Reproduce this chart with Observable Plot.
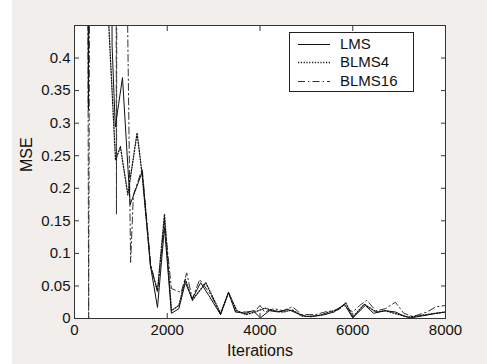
<!DOCTYPE html>
<html><head><meta charset="utf-8">
<script src="https://cdn.jsdelivr.net/npm/d3@7"></script>
<script src="https://cdn.jsdelivr.net/npm/@observablehq/plot@0.6"></script>
<style>
html,body{margin:0;padding:0;background:#fff;}
#wrap{position:relative;width:487px;height:364px;background:linear-gradient(to right,#fff 12px,#f1eeeb 12px);font-family:"Liberation Sans",Arial,sans-serif;overflow:hidden;}
#wrap svg{display:block;}
#legend{position:absolute;left:289px;top:32px;width:125px;height:60px;border:1px solid #222;background:#fff;box-sizing:border-box;}
.entry{position:absolute;left:0;height:18px;width:124px;}
.entry svg{position:absolute;left:8px;top:8px;}
.entry span{position:absolute;left:50px;top:0;font-size:15px;line-height:18px;color:#111;}
</style>
</head><body>
<div id="wrap"><div id="legend"></div></div>
<script>
// Iteration positions and MSE values
const lmsIt  = [0, 200, 300, 400, 780, 810, 880, 1035, 1200, 1460, 1640, 1790, 1940, 2090, 2250, 2390, 2540, 2720, 2900, 3150, 3320, 3470, 3700, 3850, 4010, 4200, 4400, 4600, 4800, 5000, 5200, 5400, 5600, 5820, 6000, 6270, 6450, 6700, 6920, 7100, 7250, 7500, 7800, 8000];
const lmsMse = [3.0, 3.0, 0.32, 3.0, 3.0, 0.42, 0.294, 0.37, 0.175, 0.225, 0.08, 0.017, 0.14, 0.008, 0.015, 0.055, 0.03, 0.055, 0.035, 0.006, 0.04, 0.01, 0.008, 0.012, 0.001, 0.012, 0.01, 0.014, 0.008, 0.003, 0.004, 0.006, 0.01, 0.022, 0.001, 0.02, 0.008, 0.012, 0.01, 0.004, 0.001, 0.004, 0.008, 0.01];

const blms4It  = [0, 700, 740, 885, 990, 1150, 1350, 1460, 1640, 1790, 1940, 2090, 2250, 2390, 2540, 2830, 3150, 3320, 3500, 3700, 3900, 4100, 4300, 4500, 4700, 4900, 5100, 5300, 5500, 5700, 5850, 6000, 6250, 6500, 6700, 6900, 7200, 7400, 7700, 8000];
const blms4Mse = [3.0, 3.0, 0.45, 0.243, 0.264, 0.19, 0.285, 0.22, 0.08, 0.043, 0.16, 0.012, 0.02, 0.06, 0.028, 0.055, 0.008, 0.04, 0.012, 0.006, 0.01, 0.016, 0.012, 0.01, 0.013, 0.004, 0.003, 0.005, 0.01, 0.014, 0.024, 0.002, 0.022, 0.01, 0.012, 0.008, 0.002, 0.004, 0.007, 0.01];

const blms16It  = [0, 200, 305, 420, 850, 905, 960, 1050, 1210, 1270, 1460, 1640, 1790, 1940, 2090, 2300, 2420, 2540, 2700, 2850, 2950, 3150, 3320, 3480, 3700, 3900, 4000, 4100, 4300, 4500, 4700, 4900, 5200, 5400, 5600, 5800, 6000, 6150, 6300, 6500, 6700, 6920, 7100, 7300, 7600, 7800, 8000];
const blms16Mse = [3.0, 3.0, 0.0, 3.0, 3.0, 0.16, 3.0, 1.0, 0.086, 0.19, 0.23, 0.085, 0.04, 0.15, 0.046, 0.04, 0.07, 0.03, 0.06, 0.045, 0.035, 0.006, 0.04, 0.01, 0.01, 0.012, 0.02, 0.01, 0.015, 0.012, 0.018, 0.006, 0.006, 0.01, 0.012, 0.02, 0.01, 0.02, 0.028, 0.012, 0.015, 0.025, 0.008, 0.003, 0.01, 0.018, 0.02];

const seriesNames = ["LMS", "BLMS4", "BLMS16"];
const xTicks = [0, 2000, 4000, 6000, 8000];
const xTickLabels = ["0", "2000", "4000", "6000", "8000"];
const yTicks = [0, 0.05, 0.1, 0.15, 0.2, 0.25, 0.3, 0.35, 0.4];
const yTickLabels = ["0", "0.05", "0.1", "0.15", "0.2", "0.25", "0.3", "0.35", "0.4"];

const toRows = (its, vs) => its.map((it, i) => ({it, v: vs[i]}));
const lms = toRows(lmsIt, lmsMse);
const blms4 = toRows(blms4It, blms4Mse);
const blms16 = toRows(blms16It, blms16Mse);

const styles = [
  {stroke: "#111", strokeWidth: 1, strokeDasharray: null},
  {stroke: "#111", strokeWidth: 1.3, strokeDasharray: "1.2,1.6"},
  {stroke: "#333", strokeWidth: 1, strokeDasharray: "7,3,1.5,3"}
];

const chart = Plot.plot({
  width: 487, height: 364,
  marginLeft: 74, marginRight: 42, marginTop: 25, marginBottom: 46,
  style: {background: "transparent", fontFamily: "'Liberation Sans', Arial, sans-serif", fontSize: "15px", color: "#111", overflow: "visible"},
  x: {domain: [0, 8000]},
  y: {domain: [0, 0.45]},
  marks: [
    Plot.frame({fill: "white", stroke: null}),
    Plot.line(blms16, {x: "it", y: "v", ...styles[2], clip: true}),
    Plot.line(blms4, {x: "it", y: "v", ...styles[1], clip: true}),
    Plot.line(lms, {x: "it", y: "v", ...styles[0], clip: true}),
    Plot.axisX({ticks: xTicks, tickSize: 0, tickPadding: 6, label: null, fontSize: 15, tickFormat: d => xTickLabels[xTicks.indexOf(d)]}),
    Plot.axisX({anchor: "bottom", ticks: xTicks, tickSize: -5, tickFormat: () => "", label: null, stroke: "#333"}),
    Plot.axisX({anchor: "top", ticks: xTicks, tickSize: -5, tickFormat: () => "", label: null, stroke: "#333"}),
    Plot.axisY({ticks: yTicks, tickSize: 0, tickPadding: 4, label: null, fontSize: 15, tickFormat: d => yTickLabels[yTicks.indexOf(d)]}),
    Plot.axisY({anchor: "left", ticks: yTicks, tickSize: -5, tickFormat: () => "", label: null, stroke: "#333"}),
    Plot.axisY({anchor: "right", ticks: yTicks, tickSize: -5, tickFormat: () => "", label: null, stroke: "#333"}),
    Plot.frame({stroke: "#333"}),
    Plot.text(["MSE"], {text: d => d, frameAnchor: "left", dx: -48, rotate: -90, fontSize: 16, fill: "#111"}),
    Plot.text(["Iterations"], {text: d => d, frameAnchor: "bottom", dy: 37, fontSize: 16, fill: "#111"})
  ]
});
document.getElementById("wrap").prepend(chart);

const legend = document.getElementById("legend");
seriesNames.forEach((name, i) => {
  const e = document.createElement("div");
  e.className = "entry";
  e.style.top = (1.5 + i * 18.7) + "px";
  const s = styles[i];
  e.innerHTML = `<svg width="32" height="3"><line x1="0" y1="1.5" x2="32" y2="1.5" stroke="${s.stroke}" stroke-width="${s.strokeWidth}" ${s.strokeDasharray ? `stroke-dasharray="${s.strokeDasharray}"` : ""}/></svg><span>${name}</span>`;
  legend.appendChild(e);
});
</script>
</body></html>
